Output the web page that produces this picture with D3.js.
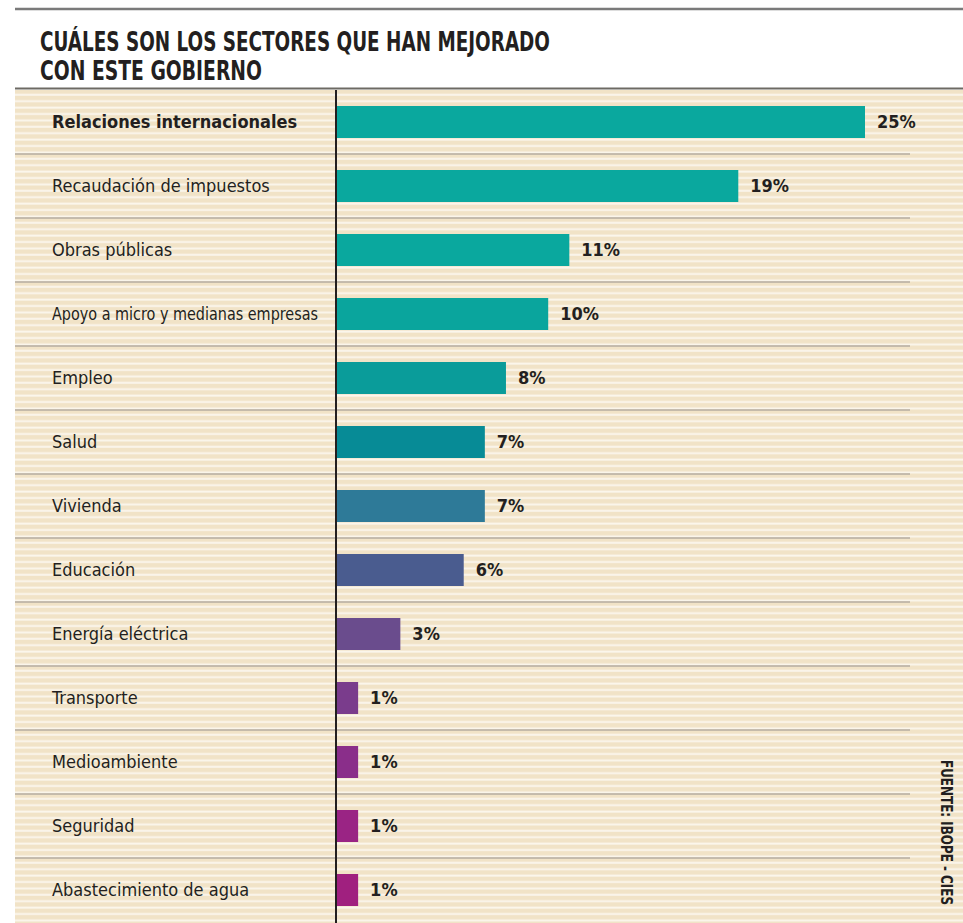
<!DOCTYPE html>
<html>
<head>
<meta charset="utf-8">
<script src="https://cdn.jsdelivr.net/npm/d3@7"></script>
<style>
  body { margin: 0; background: #fff; }
  svg { display: block; }
</style>
</head>
<body>
<svg id="chart"></svg>
<script>
// data
const categories = [
  "Relaciones internacionales",
  "Recaudación de impuestos",
  "Obras públicas",
  "Apoyo a micro y medianas empresas",
  "Empleo",
  "Salud",
  "Vivienda",
  "Educación",
  "Energía eléctrica",
  "Transporte",
  "Medioambiente",
  "Seguridad",
  "Abastecimiento de agua"
]
const values = [25, 19, 11, 10, 8, 7, 7, 6, 3, 1, 1, 1, 1]
const barColors = [
  "#0aa89e", "#0aa89e", "#0aa89e", "#0aa59d", "#0a9c9a", "#078b96", "#2e7a98",
  "#4a5c8f", "#6a4c8d", "#7a3c8c", "#8a2e8a", "#9a2484", "#a0207f"
]
const titleLines = ["CUÁLES SON LOS SECTORES QUE HAN MEJORADO", "CON ESTE GOBIERNO"]
const source = "FUENTE: IBOPE - CIES"

const W = 963, H = 923
const narrow = "'Liberation Sans Narrow', 'DejaVu Sans Condensed', 'Liberation Sans', sans-serif"

const svg = d3.select("#chart")
  .attr("width", W)
  .attr("height", H)

// stripe pattern for the background
const defs = svg.append("defs")
const pat = defs.append("pattern")
  .attr("id", "stripes")
  .attr("patternUnits", "userSpaceOnUse")
  .attr("width", 10)
  .attr("height", 6.4)
pat.append("rect").attr("width", 10).attr("height", 6.4).attr("fill", "#f1e3c7")
pat.append("rect").attr("y", 4.2).attr("width", 10).attr("height", 2).attr("fill", "#fbf6ec")

const plotTop = 90, plotBottom = 923
const axisX = 336
const labelX = 52, labelMax = 266

svg.append("rect")
  .attr("x", 15).attr("y", plotTop)
  .attr("width", W - 15).attr("height", plotBottom - plotTop)
  .attr("fill", "url(#stripes)")

// top rule and title rule
svg.append("line")
  .attr("x1", 15).attr("x2", W).attr("y1", 9).attr("y2", 9)
  .attr("stroke", "#7a7a7a").attr("stroke-width", 2.5)
svg.append("line")
  .attr("x1", 15).attr("x2", W).attr("y1", 88.5).attr("y2", 88.5)
  .attr("stroke", "#6d6a64").attr("stroke-width", 2)

svg.append("g").selectAll("text")
  .data(titleLines)
  .join("text")
    .attr("x", 40)
    .attr("y", (d, i) => 51 + i * 29)
    .attr("font-family", narrow)
    .attr("font-weight", "bold")
    .attr("font-size", 27)
    .attr("fill", "#231f20")
    .attr("textLength", (d, i) => i == 0 ? 510 : 222)
    .attr("lengthAdjust", "spacingAndGlyphs")
    .text(d => d)

// scales
const ys = d3.scaleBand()
  .domain(categories)
  .range([plotTop, 922])
  .paddingInner(0.5)
  .paddingOuter(0.25)

const xs = d3.scaleLinear()
  .domain([0, 25])
  .range([axisX + 1, 865])

const step = ys.step()

// row separators
svg.append("g").selectAll("line")
  .data(categories.slice(1))
  .join("line")
    .attr("x1", 15).attr("x2", 910)
    .attr("y1", d => ys(d) - step * 0.25)
    .attr("y2", d => ys(d) - step * 0.25)
    .attr("stroke", "#b5ada0")
    .attr("stroke-width", 1.5)

// bars
svg.append("g").selectAll("rect")
  .data(values)
  .join("rect")
    .attr("x", xs(0))
    .attr("y", (d, i) => ys(categories[i]))
    .attr("width", d => xs(d) - xs(0))
    .attr("height", ys.bandwidth())
    .attr("fill", (d, i) => barColors[i])

// category labels
svg.append("g").selectAll("text")
  .data(categories)
  .join("text")
    .attr("x", labelX)
    .attr("y", d => ys(d) + ys.bandwidth() / 2)
    .attr("dy", "0.35em")
    .attr("font-family", narrow)
    .attr("font-size", 18)
    .attr("font-weight", (d, i) => i == 0 ? "bold" : "normal")
    .attr("fill", "#231f20")
    .text(d => d)
    .each(function() {
      // squeeze long labels so they stay left of the axis
      if (this.getComputedTextLength() > labelMax) {
        d3.select(this)
          .attr("textLength", labelMax)
          .attr("lengthAdjust", "spacingAndGlyphs")
      }
    })

// value labels
svg.append("g").selectAll("text")
  .data(values)
  .join("text")
    .attr("x", d => xs(d) + 12)
    .attr("y", (d, i) => ys(categories[i]) + ys.bandwidth() / 2)
    .attr("dy", "0.35em")
    .attr("font-family", narrow)
    .attr("font-size", 18)
    .attr("font-weight", "bold")
    .attr("fill", "#231f20")
    .text(d => d + "%")

// vertical axis line
svg.append("line")
  .attr("x1", axisX).attr("x2", axisX)
  .attr("y1", plotTop).attr("y2", plotBottom)
  .attr("stroke", "#231f20").attr("stroke-width", 2)

// source, rotated
svg.append("text")
  .attr("transform", "translate(941,760) rotate(90)")
  .attr("font-family", narrow)
  .attr("font-size", 15)
  .attr("font-weight", "bold")
  .attr("fill", "#231f20")
  .attr("textLength", 145)
  .attr("lengthAdjust", "spacingAndGlyphs")
  .text(source)
</script>
</body>
</html>
